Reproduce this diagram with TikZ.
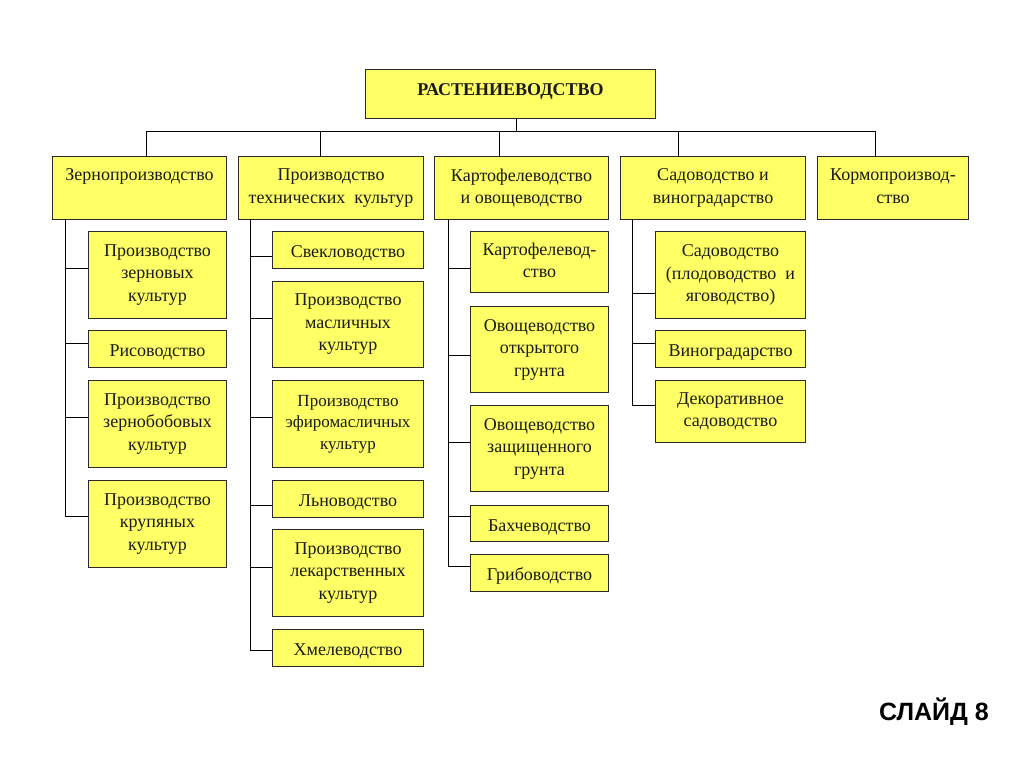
\documentclass[tikz,border=0pt]{standalone}
\usepackage{fontspec}
\setmainfont{Liberation Serif}
\newfontfamily\slidefont{Liberation Sans}
\definecolor{boxfill}{HTML}{FFFF66}
\definecolor{boxline}{HTML}{2A2A2A}
\definecolor{txt}{HTML}{1A1A1A}
\newcommand\topstrut[1]{\vrule width 0pt height #1 depth 0pt\relax}
\newcommand\botstrut[1]{\vrule width 0pt height 0pt depth #1\relax}
\begin{document}
\begin{tikzpicture}[x=1pt,y=-1pt,
  box/.style={draw=boxline,line width=1pt,fill=boxfill,anchor=north west,align=center,
    inner sep=0pt,text=txt,font=\fontsize{18}{22.5}\selectfont,
    execute at begin node=\topstrut{18.75pt},execute at end node=\botstrut{3.75pt}},
  headbox/.style={box,execute at begin node=\topstrut{20.5pt},execute at end node=\botstrut{1.5pt}},
  smallbox/.style={box,font=\fontsize{17}{21.5}\selectfont},
  conn/.style={draw=black,line width=1pt}]
\useasboundingbox (0,0) rectangle (1024,768);
% top
\node[box,minimum width=290pt,minimum height=49pt,font=\fontsize{18}{22.5}\selectfont\bfseries] (top) at (365,69) {\raisebox{0pt}[18.75pt][15.75pt]{РАСТЕНИЕВОДСТВО}};
% level 1
\node[headbox,minimum width=174pt,minimum height=63pt] (zern) at (52,156) {Зернопроизводство\\\mbox{}};
\node[headbox,minimum width=185pt,minimum height=63pt] (tech) at (238,156) {Производство\\технических\ \ культур};
\node[headbox,minimum width=174pt,minimum height=63pt] (kart) at (434,156) {Картофелеводство\\и овощеводство};
\node[headbox,minimum width=185pt,minimum height=63pt] (sad) at (620,156) {Садоводство и\\виноградарство};
\node[headbox,minimum width=151pt,minimum height=63pt] (korm) at (817,156) {Кормопроизвод-\\ство};
% bus
\coordinate (bt) at (516,131);
\coordinate (b1) at (146,131);
\coordinate (b2) at (320,131);
\coordinate (b3) at (499,131);
\coordinate (b4) at (678,131);
\coordinate (b5) at (875,131);
\draw[conn] (top.south -| bt) -- (bt);
\draw[conn] (b1) -- (b5);
\draw[conn] (b1) -- (b1 |- zern.north);
\draw[conn] (b2) -- (b2 |- tech.north);
\draw[conn] (b3) -- (b3 |- kart.north);
\draw[conn] (b4) -- (b4 |- sad.north);
\draw[conn] (b5) -- (b5 |- korm.north);
% column 1
\node[box,minimum width=138pt,minimum height=87pt] (z1) at (88,231) {Производство\\зерновых\\культур};
\node[box,minimum width=138pt,minimum height=37pt] (z2) at (88,330) {Рисоводство};
\node[box,minimum width=138pt,minimum height=87pt] (z3) at (88,380) {Производство\\зернобобовых\\культур};
\node[box,minimum width=138pt,minimum height=87pt] (z4) at (88,480) {Производство\\крупяных\\культур};
\coordinate (c1) at (65,0);
\draw[conn] (c1 |- zern.south) -- (65,516);
\draw[conn] (65,268) -- (z1.west |- 0,268);
\draw[conn] (65,343) -- (z2.west |- 0,343);
\draw[conn] (65,417) -- (z3.west |- 0,417);
\draw[conn] (65,516) -- (z4.west |- 0,516);
% column 2
\node[box,minimum width=151pt,minimum height=37pt] (t1) at (272,231) {Свекловодство};
\node[box,minimum width=151pt,minimum height=86pt] (t2) at (272,281) {Производство\\масличных\\культур};
\node[smallbox,minimum width=151pt,minimum height=87pt] (t3) at (272,380) {Производство\\эфиромасличных\\культур};
\node[box,minimum width=151pt,minimum height=37pt] (t4) at (272,480) {Льноводство};
\node[box,minimum width=151pt,minimum height=87pt] (t5) at (272,529) {Производство\\лекарственных\\культур};
\node[box,minimum width=151pt,minimum height=37pt] (t6) at (272,629) {Хмелеводство};
\coordinate (c2) at (250,0);
\draw[conn] (c2 |- tech.south) -- (250,650);
\draw[conn] (250,256) -- (t1.west |- 0,256);
\draw[conn] (250,318) -- (t2.west |- 0,318);
\draw[conn] (250,417) -- (t3.west |- 0,417);
\draw[conn] (250,505) -- (t4.west |- 0,505);
\draw[conn] (250,567) -- (t5.west |- 0,567);
\draw[conn] (250,650) -- (t6.west |- 0,650);
% column 3
\node[box,minimum width=138pt,minimum height=61pt] (k1) at (470,231) {Картофелевод-\\ство};
\node[box,minimum width=138pt,minimum height=86pt] (k2) at (470,306) {Овощеводство\\открытого\\грунта};
\node[box,minimum width=138pt,minimum height=86pt] (k3) at (470,405) {Овощеводство\\защищенного\\грунта};
\node[box,minimum width=138pt,minimum height=36pt] (k4) at (470,505) {Бахчеводство};
\node[box,minimum width=138pt,minimum height=37pt] (k5) at (470,554) {Грибоводство};
\coordinate (c3) at (448,0);
\draw[conn] (c3 |- kart.south) -- (448,566);
\draw[conn] (448,268) -- (k1.west |- 0,268);
\draw[conn] (448,355) -- (k2.west |- 0,355);
\draw[conn] (448,442) -- (k3.west |- 0,442);
\draw[conn] (448,516) -- (k4.west |- 0,516);
\draw[conn] (448,566) -- (k5.west |- 0,566);
% column 4
\node[box,minimum width=150pt,minimum height=87pt] (s1) at (655,231) {Садоводство\\(плодоводство\ \ и\\яговодство)};
\node[box,minimum width=150pt,minimum height=37pt] (s2) at (655,330) {Виноградарство};
\node[box,minimum width=150pt,minimum height=62pt] (s3) at (655,380) {Декоративное\\садоводство};
\coordinate (c4) at (632,0);
\draw[conn] (c4 |- sad.south) -- (632,405);
\draw[conn] (632,293) -- (s1.west |- 0,293);
\draw[conn] (632,343) -- (s2.west |- 0,343);
\draw[conn] (632,405) -- (s3.west |- 0,405);
% slide label
\node[anchor=east,inner sep=0pt,font=\slidefont\bfseries\fontsize{25}{29}\selectfont] (slide) at (989,712) {СЛАЙД 8};
\end{tikzpicture}
\end{document}
